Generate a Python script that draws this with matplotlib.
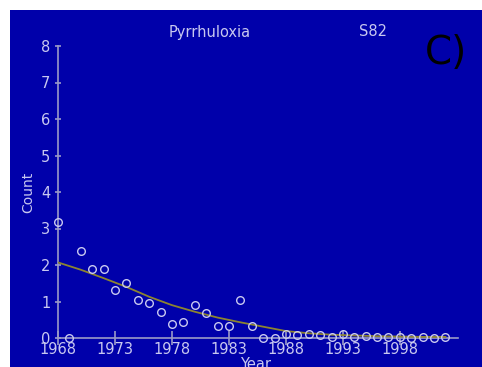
import matplotlib
matplotlib.use("Agg")
import matplotlib.pyplot as plt
from matplotlib.patches import Rectangle

years = list(range(1968, 2003))
counts = [3.18, 0.0, 2.38, 1.90, 1.90, 1.32, 1.52, 1.03, 0.95, 0.70,
          0.38, 0.45, 0.90, 0.68, 0.32, 0.32, 1.05, 0.33, 0.0, 0.0,
          0.12, 0.07, 0.10, 0.08, 0.04, 0.11, 0.02, 0.06, 0.04, 0.03,
          0.03, 0.01, 0.02, 0.01, 0.02]
fit_years = [1968, 1970, 1972, 1974, 1976, 1978, 1980, 1982, 1984, 1986,
             1988, 1990, 1992, 1994, 1996, 1998, 2000, 2002]
fit_vals = [2.07, 1.87, 1.64, 1.40, 1.13, 0.90, 0.72, 0.56, 0.43, 0.31,
            0.19, 0.13, 0.09, 0.07, 0.05, 0.04, 0.03, 0.03]
xticks = [1968, 1973, 1978, 1983, 1988, 1993, 1998]
yticks = [0, 1, 2, 3, 4, 5, 6, 7, 8]

W, H = 482, 367
fig = plt.figure(figsize=(W / 100, H / 100), dpi=100)
fig.patch.set_facecolor("white")
bg = "#0000AA"
fig.patches.append(Rectangle((10 / W, 0), 1 - 10 / W, (H - 10) / H,
                             transform=fig.transFigure, facecolor=bg,
                             edgecolor="none", zorder=-10))

txt = "#C8C8F0"
axc = "#9A9AC8"
ax = fig.add_axes([58 / W, (H - 338) / H, (458 - 58) / W, (338 - 46) / H])
ax.set_zorder(5)
ax.set_facecolor("none")
ax.set_xlim(1968, 2003.1)
ax.set_ylim(0, 8)
for s in ["top", "right"]:
    ax.spines[s].set_visible(False)
for s in ["left", "bottom"]:
    ax.spines[s].set_color(axc)
    ax.spines[s].set_linewidth(1.2)

ax.plot(fit_years, fit_vals, color="#8C8430", lw=1.3, zorder=3)
ax.plot(years, counts, "o", mfc="none", mec=txt, ms=5.5, mew=1.0,
        clip_on=False, zorder=4)

ax.set_xticks(xticks)
ax.set_yticks(yticks)
ax.tick_params(axis="both", colors=axc, labelcolor=txt, labelsize=10.5,
               direction="inout", width=1.2)
ax.tick_params(axis="x", length=10, pad=-2)
ax.tick_params(axis="y", length=5, pad=3)

ax.set_ylabel("Count", color=txt, fontsize=10, labelpad=4)

fig.text(256 / W, 1 - 357 / H, "Year", color=txt, fontsize=10.5,
         ha="center", va="top")
fig.text(210 / W, 1 - 32 / H, "Pyrrhuloxia", color=txt, fontsize=10.5,
         ha="center", va="center")
fig.text(373 / W, 1 - 32 / H, "S82", color=txt, fontsize=10.5,
         ha="center", va="center")
fig.text(446 / W, 1 - 53 / H, "C)", color="black", fontsize=28,
         ha="center", va="center")

fig.savefig("out.png", dpi=100, facecolor="white")
